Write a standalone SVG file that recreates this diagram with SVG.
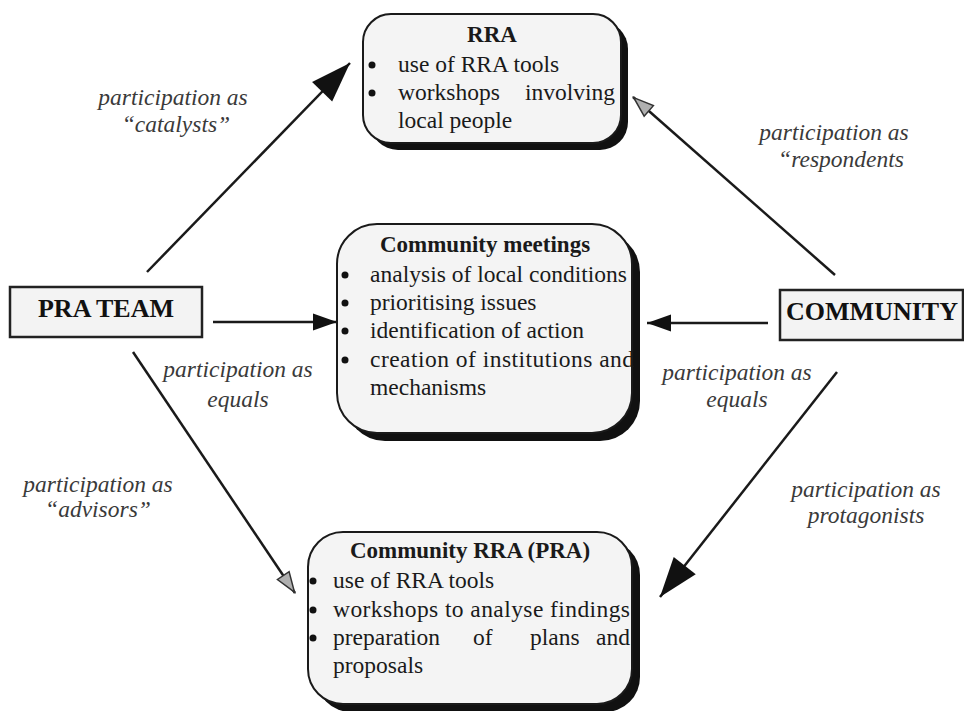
<svg xmlns="http://www.w3.org/2000/svg" width="964" height="711" viewBox="0 0 964 711">
<defs>
<style>
.shadow{fill:#111;}
.box{fill:#f4f4f4;stroke:#1a1a1a;stroke-width:2;}
.sq{fill:#f3f3f3;stroke:#222;stroke-width:2.5;}
.t{font-family:"Liberation Serif","Times New Roman",serif;font-size:23.5px;fill:#1a1a1a;}
.b{font-weight:bold;font-size:23px;}
.big{font-family:"Liberation Serif","Times New Roman",serif;font-size:26px;font-weight:bold;fill:#111;}
.lab{font-family:"Liberation Serif","Times New Roman",serif;font-size:23.5px;font-style:italic;fill:#3a3a3a;}
.dot{fill:#111;}
.ln{stroke:#1a1a1a;stroke-width:2.5;fill:none;}
</style>
<marker id="bigHead" markerUnits="userSpaceOnUse" viewBox="0 -15 40 30" markerWidth="40" markerHeight="30" refX="40" refY="0" orient="auto" overflow="visible">
<path d="M0,-14 L40,0 L0,14 z" fill="#111"/>
</marker>
<marker id="midHead" markerUnits="userSpaceOnUse" viewBox="0 -10 24 20" markerWidth="24" markerHeight="20" refX="24" refY="0" orient="auto" overflow="visible">
<path d="M0,-8.5 L24,0 L0,8.5 z" fill="#111"/>
</marker>
<marker id="grayHead" markerUnits="userSpaceOnUse" viewBox="0 -9 22 18" markerWidth="22" markerHeight="18" refX="22" refY="0" orient="auto" overflow="visible">
<path d="M1,-7 L21,0 L1,7 z" fill="#b0b0b0" stroke="#333" stroke-width="1.5"/>
</marker>
</defs>
<rect width="964" height="711" fill="#ffffff"/>

<g id="connectors">
<line class="ln" x1="147" y1="272" x2="350" y2="63" marker-end="url(#bigHead)"/>
<line class="ln" x1="835" y1="275" x2="633" y2="97" marker-end="url(#grayHead)"/>
<line class="ln" x1="213" y1="322" x2="337" y2="322" marker-end="url(#midHead)"/>
<line class="ln" x1="768" y1="323" x2="647" y2="323" marker-end="url(#midHead)"/>
<line class="ln" x1="133" y1="352" x2="295" y2="593" marker-end="url(#grayHead)"/>
<line class="ln" x1="837" y1="372" x2="660" y2="597" marker-end="url(#bigHead)"/>
</g>

<g id="labels">
<text class="lab" x="173" y="105" text-anchor="middle">participation as</text>
<text class="lab" x="176" y="132" text-anchor="middle">“catalysts”</text>
<text class="lab" x="834" y="140" text-anchor="middle">participation as</text>
<text class="lab" x="841" y="167" text-anchor="middle">“respondents</text>
<text class="lab" x="238" y="377" text-anchor="middle">participation as</text>
<text class="lab" x="238" y="407" text-anchor="middle">equals</text>
<text class="lab" x="737" y="380" text-anchor="middle">participation as</text>
<text class="lab" x="737" y="407" text-anchor="middle">equals</text>
<text class="lab" x="98" y="492" text-anchor="middle">participation as</text>
<text class="lab" x="98" y="517" text-anchor="middle">“advisors”</text>
<text class="lab" x="866" y="497" text-anchor="middle">participation as</text>
<text class="lab" x="866" y="523" text-anchor="middle">protagonists</text>
</g>

<g id="pra-team">
<rect class="sq" x="10" y="287" width="192" height="50"/>
<text class="big" x="106" y="317" text-anchor="middle">PRA TEAM</text>
</g>

<g id="community">
<rect class="sq" x="780" y="290" width="183" height="50"/>
<text class="big" x="872" y="320" text-anchor="middle">COMMUNITY</text>
</g>

<g id="rra">
<rect class="shadow" x="370" y="21" width="258" height="129" rx="28"/>
<rect class="box" x="363" y="14" width="258" height="129" rx="28"/>
<text class="t b" x="492" y="42" text-anchor="middle">RRA</text>
<circle class="dot" cx="372" cy="65" r="3.5"/>
<text class="t" x="398" y="72">use of RRA tools</text>
<circle class="dot" cx="372" cy="93" r="3.5"/>
<text class="t" x="398" y="100">workshops</text>
<text class="t" x="615" y="100" text-anchor="end">involving</text>
<text class="t" x="398" y="128">local people</text>
</g>

<g id="community-meetings">
<rect class="shadow" x="345" y="232" width="295" height="209" rx="40"/>
<rect class="box" x="337" y="224" width="295" height="209" rx="40"/>
<text class="t b" x="485" y="252" text-anchor="middle">Community meetings</text>
<circle class="dot" cx="345" cy="275" r="3.5"/>
<text class="t" x="370" y="282" textLength="257" lengthAdjust="spacing">analysis of local conditions</text>
<circle class="dot" cx="345" cy="303" r="3.5"/>
<text class="t" x="370" y="310">prioritising issues</text>
<circle class="dot" cx="345" cy="331" r="3.5"/>
<text class="t" x="370" y="338">identification of action</text>
<circle class="dot" cx="345" cy="360" r="3.5"/>
<text class="t" x="370" y="367" textLength="264" lengthAdjust="spacing">creation of institutions and</text>
<text class="t" x="370" y="395">mechanisms</text>
</g>

<g id="community-rra">
<rect class="shadow" x="316" y="540" width="324" height="172" rx="35"/>
<rect class="box" x="308" y="532" width="324" height="172" rx="35"/>
<text class="t b" x="470" y="558" text-anchor="middle">Community RRA (PRA)</text>
<circle class="dot" cx="313" cy="581" r="3.5"/>
<text class="t" x="333" y="588">use of RRA tools</text>
<circle class="dot" cx="313" cy="610" r="3.5"/>
<text class="t" x="333" y="617" textLength="297" lengthAdjust="spacing">workshops to analyse findings</text>
<circle class="dot" cx="313" cy="638" r="3.5"/>
<text class="t" x="333" y="645">preparation</text>
<text class="t" x="473" y="645">of</text>
<text class="t" x="530" y="645">plans</text>
<text class="t" x="630" y="645" text-anchor="end">and</text>
<text class="t" x="333" y="673">proposals</text>
</g>
</svg>
